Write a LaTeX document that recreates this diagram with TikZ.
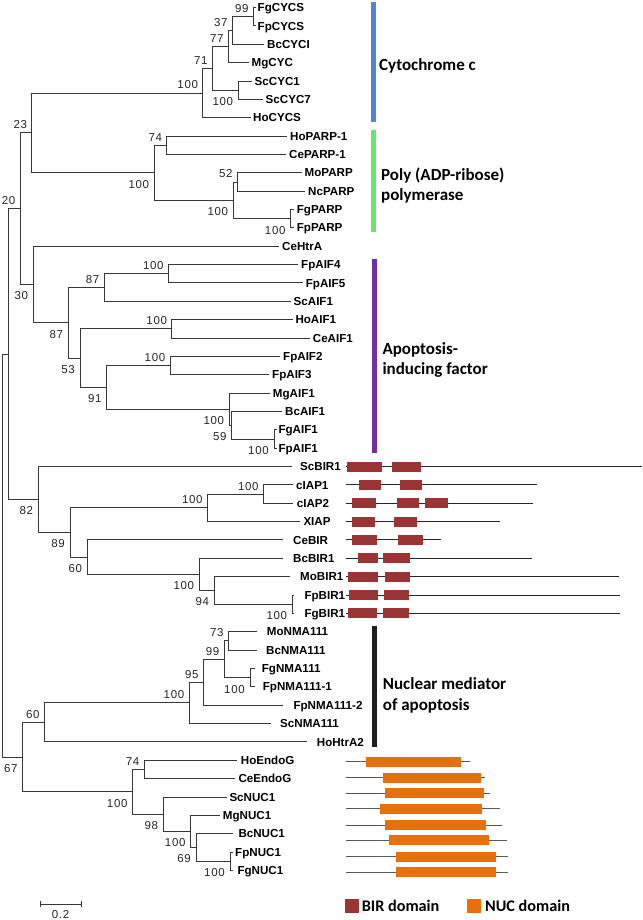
\documentclass[tikz,border=0pt]{standalone}
\usepackage{fontspec}
\setmainfont{Liberation Sans}
\newfontfamily\calib{Carlito}
\newfontfamily\bsfont[LetterSpace=6]{Liberation Sans}
\definecolor{cblue}{RGB}{82,132,212}
\definecolor{cgreen}{RGB}{105,230,105}
\definecolor{cpurple}{RGB}{112,48,160}
\definecolor{cblack}{RGB}{30,30,30}
\definecolor{bir}{RGB}{155,52,52}
\definecolor{nuc}{RGB}{232,112,10}
\newcommand\edge[2]{\draw[br] (#1) |- (#2);}
\newcommand\myleaf[6]{\coordinate (#2) at (#3,#4);\draw[br] (#1) |- (#2);\node[lab,anchor=west] (txt#2) at (#5,#4) {#6};}
\newcommand\bsup[2]{\node[bs,anchor=south east,xshift=-4.5pt,yshift=3.8pt] (bs#1) at (#1) {#2};}
\newcommand\bsdn[2]{\node[bs,anchor=north east,xshift=-5pt,yshift=-7pt] (bs#1) at (#1) {#2};}
\begin{document}
\begin{tikzpicture}[x=1pt,y=-1pt,
  br/.style={draw=black!78,line width=0.9pt},
  lab/.style={font=\fontsize{11.6}{12}\selectfont\bfseries,inner sep=0pt,text height=8.3pt,text depth=0pt},
  bs/.style={font=\bsfont\fontsize{11.5}{12}\selectfont,text=black!85,inner sep=0pt,text height=8.2pt,text depth=0pt},
  clade/.style={font=\calib\bfseries\fontsize{17}{20}\selectfont,inner sep=0pt,anchor=base west},
  legt/.style={font=\calib\bfseries\fontsize{16.2}{18}\selectfont,inner sep=0pt,anchor=base west},
  dline/.style={draw=black!85,line width=0.9pt},
  nline/.style={draw=black!65,line width=0.9pt}]
\useasboundingbox (0,0) rectangle (642,920);
\fill[white] (0,0) rectangle (642,920);
% internal nodes
\coordinate (r) at (2.7,555.8);
\coordinate (nX) at (8.3,354.1);
\coordinate (n20) at (20,208.7);
\coordinate (n23) at (31.7,132.9);
\coordinate (nCYC) at (202.7,93);
\coordinate (n71) at (212.3,68.3);
\coordinate (n77) at (228.3,46.5);
\coordinate (n37) at (232.3,30.5);
\coordinate (n99) at (253.3,16.7);
\coordinate (nScC) at (238.3,90.2);
\coordinate (nPARP) at (154.3,172.8);
\coordinate (n74a) at (166.7,145.2);
\coordinate (nMNFF) at (233.3,200.3);
\coordinate (n52) at (237.3,182);
\coordinate (nFFP) at (290.7,218.7);
\coordinate (n30) at (33.3,284.5);
\coordinate (n87b) at (68.3,322.8);
\coordinate (n87a) at (104,287.5);
\coordinate (nAIFa) at (168.3,273.7);
\coordinate (n53) at (80,358.1);
\coordinate (nHoCe) at (171.7,328.8);
\coordinate (n91) at (106.7,387.4);
\coordinate (nAIFb) at (170,365.5);
\coordinate (nMBFF) at (229.3,409.2);
\coordinate (n59) at (231.7,425.2);
\coordinate (nFFA) at (274,439);
\coordinate (n82) at (38.3,499.5);
\coordinate (n89) at (70,532.5);
\coordinate (nIAPX) at (207.3,507.8);
\coordinate (nIAP) at (263.3,494);
\coordinate (n60b) at (87.3,557.1);
\coordinate (nBc) at (199.3,574.4);
\coordinate (n94) at (214.3,590.5);
\coordinate (nFFB) at (292.3,604.2);
\coordinate (n67) at (22.7,757.4);
\coordinate (n60) at (44.3,722.4);
\coordinate (nNMA) at (189,702.9);
\coordinate (n95) at (203.3,682.2);
\coordinate (nNN) at (224,659.3);
\coordinate (n73) at (228.3,640.9);
\coordinate (nFFN) at (250,677.6);
\coordinate (nNUC) at (132.7,791.7);
\coordinate (n74b) at (144,769.4);
\coordinate (n98) at (163.3,814);
\coordinate (nMg) at (190.7,831.2);
\coordinate (n69) at (196,847.4);
\coordinate (nFFU) at (230,861.2);
% internal edges
\edge{r}{nX}\edge{r}{n67}
\edge{nX}{n20}\edge{nX}{n82}
\edge{n20}{n23}\edge{n20}{n30}
\edge{n23}{nCYC}\edge{n23}{nPARP}
\edge{nCYC}{n71}\edge{n71}{n77}\edge{n71}{nScC}\edge{n77}{n37}\edge{n37}{n99}
\edge{nPARP}{n74a}\edge{nPARP}{nMNFF}\edge{nMNFF}{n52}\edge{nMNFF}{nFFP}
\edge{n30}{n87b}\edge{n87b}{n87a}\edge{n87b}{n53}\edge{n87a}{nAIFa}
\edge{n53}{nHoCe}\edge{n53}{n91}\edge{n91}{nAIFb}\edge{n91}{nMBFF}\edge{nMBFF}{n59}\edge{n59}{nFFA}
\edge{n82}{n89}\edge{n89}{nIAPX}\edge{n89}{n60b}\edge{nIAPX}{nIAP}\edge{n60b}{nBc}\edge{nBc}{n94}\edge{n94}{nFFB}
\edge{n67}{n60}\edge{n67}{nNUC}\edge{n60}{nNMA}\edge{nNMA}{n95}\edge{n95}{nNN}\edge{nNN}{n73}\edge{nNN}{nFFN}
\edge{nNUC}{n74b}\edge{nNUC}{n98}\edge{n98}{nMg}\edge{nMg}{n69}\edge{n69}{nFFU}
% leaves
\myleaf{n99}{L1}{255.5}{7.5}{257.5}{FgCYCS}
\myleaf{n99}{L2}{255.5}{25.9}{257.5}{FpCYCS}
\myleaf{n37}{L3}{264}{44.2}{267}{BcCYCI}
\myleaf{n77}{L4}{248.5}{62.6}{251.5}{MgCYC}
\myleaf{nScC}{L5}{252}{81}{254.5}{ScCYC1}
\myleaf{nScC}{L6}{263}{99.3}{265.5}{ScCYC7}
\myleaf{nCYC}{L7}{250.5}{117.7}{253}{HoCYCS}
\myleaf{n74a}{L8}{286.7}{136}{290}{HoPARP-1}
\myleaf{n74a}{L9}{286}{154.4}{289}{CePARP-1}
\myleaf{n52}{L10}{301.7}{172.8}{304.5}{MoPARP}
\myleaf{n52}{L11}{305}{191.1}{308}{NcPARP}
\myleaf{nFFP}{L12}{293.5}{209.5}{296.7}{FgPARP}
\myleaf{nFFP}{L13}{293.5}{227.8}{296.7}{FpPARP}
\myleaf{n30}{L14}{279}{246.2}{282}{CeHtrA}
\myleaf{nAIFa}{L15}{298}{264.6}{301}{FpAIF4}
\myleaf{nAIFa}{L16}{302.7}{282.9}{305.7}{FpAIF5}
\myleaf{n87a}{L17}{290.7}{301.3}{293.5}{ScAIF1}
\myleaf{nHoCe}{L18}{292.7}{319.6}{295.3}{HoAIF1}
\myleaf{nHoCe}{L19}{310}{338}{312.7}{CeAIF1}
\myleaf{nAIFb}{L20}{280}{356.4}{283}{FpAIF2}
\myleaf{nAIFb}{L21}{269}{374.7}{272}{FpAIF3}
\myleaf{nMBFF}{L22}{270}{393.1}{272.7}{MgAIF1}
\myleaf{n59}{L23}{281.7}{411.4}{285}{BcAIF1}
\myleaf{nFFA}{L24}{276.5}{429.8}{278.3}{FgAIF1}
\myleaf{nFFA}{L25}{276.5}{448.2}{278.3}{FpAIF1}
\myleaf{n82}{L26}{291.7}{466.5}{300}{ScBIR1}
\myleaf{nIAP}{L27}{293}{484.9}{296}{cIAP1}
\myleaf{nIAP}{L28}{293}{503.2}{296.7}{cIAP2}
\myleaf{nIAPX}{L29}{300}{521.6}{303.3}{XIAP}
\myleaf{n60b}{L30}{283}{539.9}{293}{CeBIR}
\myleaf{nBc}{L31}{283}{558.3}{293}{BcBIR1}
\myleaf{n94}{L32}{290}{576.7}{300}{MoBIR1}
\myleaf{nFFB}{L33}{294}{595}{304.3}{FpBIR1}
\myleaf{nFFB}{L34}{294}{613.4}{304.3}{FgBIR1}
\myleaf{n73}{L35}{256.7}{631.7}{266.7}{MoNMA111}
\myleaf{n73}{L36}{256.7}{650.1}{266}{BcNMA111}
\myleaf{nFFN}{L37}{254.5}{668.5}{261.7}{FgNMA111}
\myleaf{nFFN}{L38}{254.5}{686.8}{262.7}{FpNMA111-1}
\myleaf{n95}{L39}{283.3}{705.2}{293.3}{FpNMA111-2}
\myleaf{nNMA}{L40}{270.7}{723.5}{280}{ScNMA111}
\myleaf{n60}{L41}{306.7}{741.9}{316.7}{HoHtrA2}
\myleaf{n74b}{L42}{237}{760.2}{240.7}{HoEndoG}
\myleaf{n74b}{L43}{235}{778.6}{238.3}{CeEndoG}
\myleaf{n98}{L44}{226.7}{797}{229.3}{ScNUC1}
\myleaf{nMg}{L45}{220}{815.3}{222.7}{MgNUC1}
\myleaf{n69}{L46}{233.3}{833.7}{238.3}{BcNUC1}
\myleaf{nFFU}{L47}{233}{852}{235}{FpNUC1}
\myleaf{nFFU}{L48}{233}{870.4}{237.3}{FgNUC1}
% bootstrap values
\bsup{n20}{20}\bsup{n23}{23}\bsup{nCYC}{100}\bsup{n71}{71}\bsup{n77}{77}\bsup{n37}{37}\bsup{n99}{99}
\bsdn{nScC}{100}\bsdn{nPARP}{100}\bsup{n74a}{74}\bsdn{nMNFF}{100}\bsup{n52}{52}\bsdn{nFFP}{100}
\bsdn{n30}{30}\bsdn{n87b}{87}\bsup{n87a}{87}\bsup{nAIFa}{100}\bsdn{n53}{53}\bsup{nHoCe}{100}
\bsdn{n91}{91}\bsup{nAIFb}{100}\bsdn{nMBFF}{100}\bsdn{n59}{59}\bsdn{nFFA}{100}
\bsdn{n82}{82}\bsdn{n89}{89}\bsup{nIAPX}{100}\bsup{nIAP}{100}\bsdn{n60b}{60}\bsdn{nBc}{100}\bsdn{n94}{94}\bsdn{nFFB}{100}
\bsdn{n67}{67}\bsup{n60}{60}\bsup{nNMA}{100}\bsup{n95}{95}\bsup{nNN}{99}\bsup{n73}{73}\bsdn{nFFN}{100}
\bsdn{nNUC}{100}\bsup{n74b}{74}\bsdn{n98}{98}\bsdn{nMg}{100}\bsdn{n69}{69}\bsdn{nFFU}{100}
% clade bars
\fill[cblue] (371,1.7) rectangle (376,121.7);
\fill[cgreen] (371,130) rectangle (376,231.7);
\fill[cpurple] (372,259.3) rectangle (377,453.3);
\fill[cblack] (372,625.7) rectangle (377,746.7);
\node[clade] (tc) at (379,70.6) {Cytochrome c};
\node[clade] (tp1) at (381,180.6) {Poly (ADP-ribose)};
\node[clade] (tp2) at (381,200.6) {polymerase};
\node[clade] (ta1) at (382.3,354) {Apoptosis-};
\node[clade] (ta2) at (382.3,374) {inducing factor};
\node[clade] (tn1) at (382.7,689.6) {Nuclear mediator};
\node[clade] (tn2) at (382.7,710) {of apoptosis};
% BIR domains
\foreach \y/\xe in {466.5/641.7,484.9/537.3,503.2/532.7,521.6/500,539.9/440.7,558.3/531.7,576.7/619.3,595/620,613.4/620}
  {\draw[dline] (345.5,\y) -- (\xe,\y);}
\foreach \y/\a/\b in {466.5/347.3/381.7,466.5/392.3/421,
  484.9/359.3/381,484.9/400/422.3,
  503.2/352.3/375.7,503.2/396.7/419.3,503.2/424.7/448,
  521.6/352.3/375,521.6/394.3/417,
  539.9/352.3/377,539.9/397.7/422.7,
  558.3/357.7/378.3,558.3/383/410,
  576.7/347.7/378.3,576.7/385/410.3,
  595/349/377.7,595/383.7/409.3,
  613.4/347.7/377.3,613.4/383/408.7}
  {\fill[bir] (\a,\y-5) rectangle (\b,\y+5);}
% NUC domains
\foreach \y/\xe/\a/\b in {761.7/470/366/460.7,777.7/485/382.7/480.7,793.3/490/385/484,808.7/500/380/482.3,825.3/501.7/385/485.7,840/506.7/389/489.3,856.7/508.3/395.7/496,872.3/508.3/395.7/496}
  {\draw[nline] (345.7,\y) -- (\xe,\y);
   \fill[nuc] (\a,\y-5) rectangle (\b,\y+5);}
% legend
\fill[bir] (345,899.3) rectangle (359.3,912.7);
\node[legt] (lb) at (361.7,911) {BIR domain};
\fill[nuc] (466.7,899.3) rectangle (480.7,912.7);
\node[legt] (ln) at (485,911) {NUC domain};
% scale bar
\coordinate (sa) at (40,904.3);
\coordinate (sb) at (81,904.3);
\draw[br,line width=0.8pt] (sa) -- (sb);
\draw[br,line width=0.8pt] ([yshift=3pt]sa) -- ([yshift=-3pt]sa);
\draw[br,line width=0.8pt] ([yshift=3pt]sb) -- ([yshift=-3pt]sb);
\node[bs,anchor=north] (sl) at (60.5,910) {0.2};
\end{tikzpicture}
\end{document}
